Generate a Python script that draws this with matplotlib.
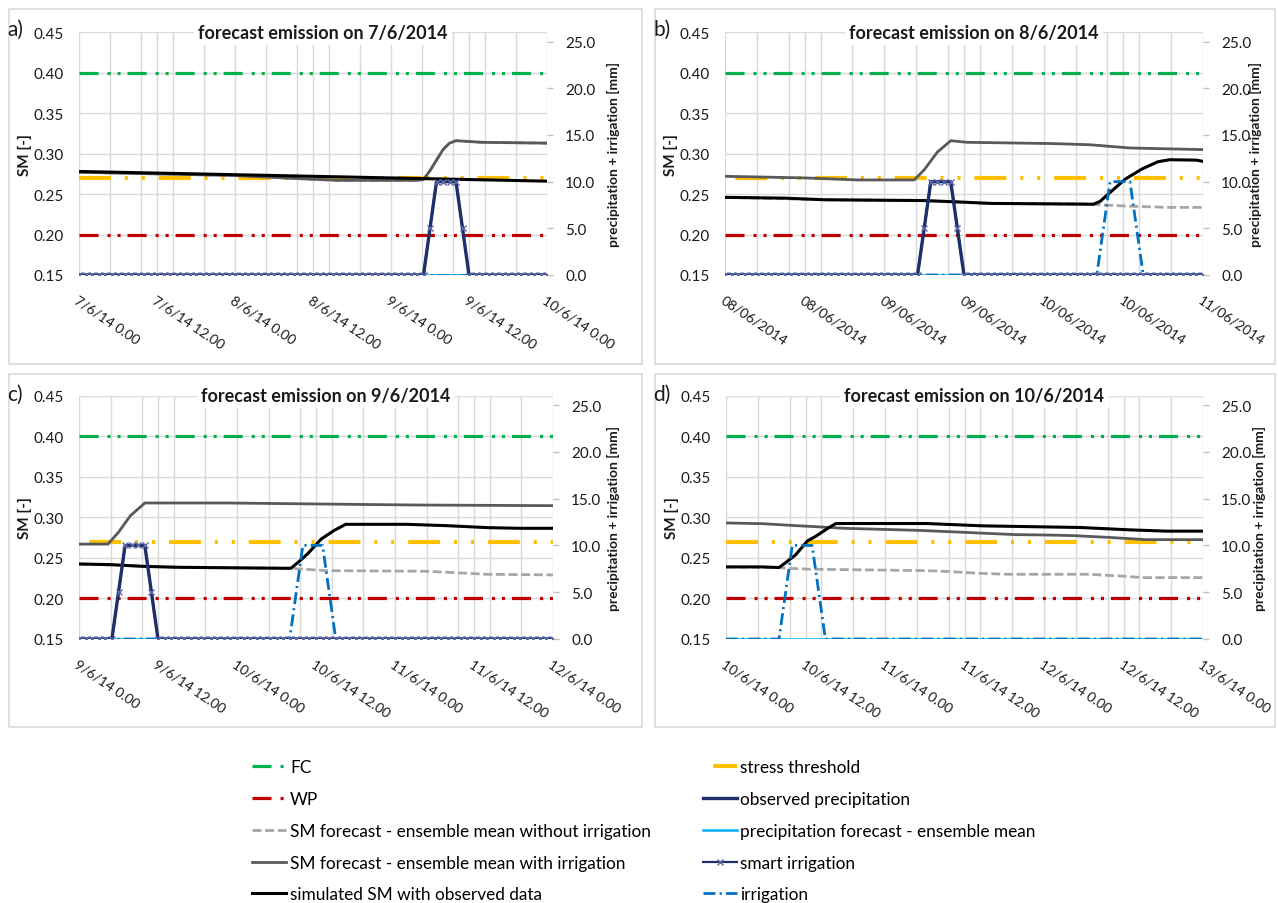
import numpy as np
import matplotlib
matplotlib.use("Agg")
import matplotlib.pyplot as plt
from matplotlib.patches import Rectangle

plt.rcParams['font.family'] = ['Lato', 'DejaVu Sans']
plt.rcParams['lines.scale_dashes'] = False

# time axis: hourly steps over the 3 days of each forecast
hours = np.arange(0, 73)

# thresholds (left axis)
fc_value = 0.40
wp_value = 0.20
stress_value = 0.27

# panel a) forecast emission on 7/6/2014
ticks_a = ['7/6/14 0.00', '7/6/14 12.00', '8/6/14 0.00', '8/6/14 12.00',
           '9/6/14 0.00', '9/6/14 12.00', '10/6/14 0.00']
sim_a_h = [0, 12, 24, 36, 48, 60, 72]
sim_a = [0.278, 0.276, 0.274, 0.272, 0.270, 0.268, 0.266]
withirr_a_h = [0, 12, 24, 34, 40, 52, 53, 54, 55, 56, 57, 58, 62, 72]
withirr_a = [0.277, 0.275, 0.273, 0.269, 0.267, 0.267, 0.268, 0.279, 0.292, 0.305, 0.313, 0.316, 0.314, 0.313]
noirr_a_h = withirr_a_h
noirr_a = withirr_a
obs_a = [0] * 54 + [5, 10, 10, 10, 10, 5] + [0] * 13
smart_a = obs_a
irr_a = [0] * 73
fcst_a = [0] * 73

# panel b) forecast emission on 8/6/2014
ticks_b = ['08/06/2014', '08/06/2014', '09/06/2014', '09/06/2014',
           '10/06/2014', '10/06/2014', '11/06/2014']
sim_b_h = [0, 9, 15, 30, 36, 40, 55.5, 56.5, 58, 60.3, 62.8, 65.2, 67, 71, 72]
sim_b = [0.246, 0.245, 0.243, 0.242, 0.240, 0.2385, 0.2375, 0.241, 0.252, 0.2686, 0.281, 0.290, 0.2925, 0.292, 0.2905]
withirr_b_h = [0, 12, 20, 28.5, 30, 32, 34, 36.5, 49, 55, 61, 72]
withirr_b = [0.272, 0.270, 0.2675, 0.2675, 0.280, 0.302, 0.316, 0.314, 0.3125, 0.311, 0.307, 0.305]
noirr_b_h = [0, 15, 30, 40, 55.5, 57.2, 61, 67, 72]
noirr_b = [0.246, 0.243, 0.242, 0.2385, 0.2375, 0.2365, 0.235, 0.2336, 0.2336]
obs_b = [0] * 30 + [5, 10, 10, 10, 10, 5] + [0] * 37
smart_b = obs_b
irr_b = [0] * 57 + [5, 10, 10, 10, 10, 5] + [0] * 10
fcst_b = [0] * 73

# panel c) forecast emission on 9/6/2014
ticks_c = ['9/6/14 0.00', '9/6/14 12.00', '10/6/14 0.00', '10/6/14 12.00',
           '11/6/14 0.00', '11/6/14 12.00', '12/6/14 0.00']
sim_c_h = [0, 4.8, 9.7, 15.2, 31.3, 32.2, 33.4, 34.7, 36.8, 38.7, 40.5, 49.8, 56, 62.1, 67, 72]
sim_c = [0.2425, 0.2417, 0.2396, 0.2384, 0.2372, 0.2372, 0.2454, 0.2548, 0.2733, 0.2836, 0.2914, 0.2914, 0.2897, 0.2873, 0.2865, 0.2865]
withirr_c_h = [0, 4.4, 6, 7.8, 10, 22.6, 41.8, 51.6, 72]
withirr_c = [0.267, 0.267, 0.2816, 0.302, 0.3177, 0.3177, 0.316, 0.3152, 0.3144]
noirr_c_h = [0, 15.2, 31.3, 32.2, 33.4, 37.5, 52.9, 56, 62, 72]
noirr_c = [0.2425, 0.2384, 0.2372, 0.2372, 0.2364, 0.2343, 0.2335, 0.2322, 0.2298, 0.229]
obs_c = [0] * 6 + [5, 10, 10, 10, 10, 5] + [0] * 61
smart_c = obs_c
irr_c = [0] * 33 + [5, 10, 10, 10, 10, 5] + [0] * 34
fcst_c = [0] * 73

# panel d) forecast emission on 10/6/2014
ticks_d = ['10/6/14 0.00', '10/6/14 12.00', '11/6/14 0.00', '11/6/14 12.00',
           '12/6/14 0.00', '12/6/14 12.00', '13/6/14 0.00']
sim_d_h = [0, 5.5, 8, 8.9, 10.5, 12.3, 13.5, 15.4, 16.6, 30.2, 38.8, 53.5, 60.9, 66.5, 72]
sim_d = [0.2389, 0.2389, 0.2381, 0.2435, 0.2537, 0.271, 0.2764, 0.2867, 0.2924, 0.2924, 0.2895, 0.2875, 0.2846, 0.283, 0.283]
withirr_d_h = [0, 5.5, 10.5, 13.5, 17.8, 28.9, 33.8, 38.2, 43.7, 48.6, 52.3, 57.8, 63.4, 72]
withirr_d = [0.2931, 0.2922, 0.2898, 0.2885, 0.2865, 0.284, 0.2823, 0.2807, 0.2787, 0.2782, 0.2775, 0.2753, 0.2725, 0.2725]
noirr_d_h = [0, 8, 9.2, 12.9, 30.2, 33.8, 38.2, 42.5, 54.8, 56.6, 61, 62.8, 72]
noirr_d = [0.2389, 0.2381, 0.2372, 0.236, 0.2343, 0.2331, 0.231, 0.2298, 0.2298, 0.229, 0.2269, 0.2257, 0.2257]
obs_d = None
smart_d = None
irr_d = [0] * 9 + [5, 10, 10, 10, 10, 5] + [0] * 58
fcst_d = [0] * 73

# colours
C_FC = '#00B050'
C_WP = '#C00000'
C_STRESS = '#FFC000'
C_NOIRR = '#A6A6A6'
C_WITHIRR = '#595959'
C_SIM = '#000000'
C_OBS = '#1F2F6B'
C_FCST = '#00B0F0'
C_SMART = '#1F2F6B'
C_IRR = '#0070C0'
C_GRID = '#D9D9D9'
C_TEXT = '#1a1a1a'

W, H = 1278, 904
fig = plt.figure(figsize=(W / 100, H / 100), dpi=100)


def px_axes(left, right, top, bottom):
    return fig.add_axes([left / W, 1 - bottom / H, (right - left) / W, (bottom - top) / H])


def draw_panel(box, plot, right_lab, stress_off, letter, title, ticks, sim, withirr, noirr, obs, smart, irr, fcst):
    # light grey frame round each panel
    bx0, by0, bx1, by1 = box
    fig.add_artist(Rectangle((bx0 / W, 1 - by1 / H), (bx1 - bx0) / W, (by1 - by0) / H,
                             transform=fig.transFigure, fill=False, ec=C_GRID, lw=1.2))
    fig.text((bx0 - 2) / W, 1 - (by0 + 20) / H, letter, fontsize=15, color=C_TEXT,
             ha='left', va='center')

    left, right, top, bottom = plot
    ax = px_axes(left, right, top, bottom)
    ax2 = ax.twinx()

    lines = {}
    # order of drawing: stress threshold sits under the SM curves
    lines['stress'] = ax.plot(hours, [stress_value] * len(hours), color=C_STRESS, lw=3.0,
                              ls=(stress_off, (23, 10, 2.2, 10, 2.2, 10)))[0]
    lines['FC'] = ax.plot(hours, [fc_value] * len(hours), color=C_FC, lw=2.3,
                          ls=(0, (13.7, 6.5, 2.2, 5, 2.2, 5)))[0]
    lines['WP'] = ax.plot(hours, [wp_value] * len(hours), color=C_WP, lw=2.3,
                          ls=(0, (13.7, 6.5, 2.2, 5, 2.2, 5)))[0]
    lines['noirr'] = ax.plot(noirr[0], noirr[1], color=C_NOIRR, lw=2.0, ls=(0, (6.5, 2.6)))[0]
    lines['withirr'] = ax.plot(withirr[0], withirr[1], color=C_WITHIRR, lw=2.0)[0]
    lines['sim'] = ax.plot(sim[0], sim[1], color=C_SIM, lw=2.2)[0]

    if obs is not None:
        lines['obs'] = ax2.plot(hours, obs, color=C_OBS, lw=2.4)[0]
    lines['fcst'] = ax2.plot(hours, fcst, color=C_FCST, lw=1.8)[0]
    lines['irr'] = ax2.plot(hours, irr, color=C_IRR, lw=2.0, ls=(0, (8.6, 3, 1.5, 3)))[0]
    if smart is not None:
        lines['smart'] = ax2.plot(hours, smart, color=C_SMART, lw=1.6, marker='x', ms=4.5,
                                  mec='#5A68A8', mew=1.0)[0]

    # left axis: soil moisture
    ax.set_xlim(0, 72)
    ax.set_ylim(0.15, 0.45)
    ax.set_yticks(np.arange(0.15, 0.451, 0.05))
    ax.set_yticklabels([f'{v:.2f}' for v in np.arange(0.15, 0.451, 0.05)])
    ax.set_xticks(np.arange(0, 73, 12))
    ax.set_xticks(np.arange(0, 72.1, 4.8), minor=True)
    ax.set_xticklabels(ticks, rotation=-34, ha='left', rotation_mode='anchor', fontsize=10)
    ax.tick_params(axis='x', which='both', length=0, pad=13, colors=C_TEXT)
    ax.tick_params(axis='y', length=0, pad=11, labelsize=11, colors=C_TEXT)
    ax.grid(True, which='both', axis='x', color=C_GRID, lw=1)
    ax.grid(True, which='major', axis='y', color=C_GRID, lw=1)
    ax.set_axisbelow(True)
    for s in ax.spines.values():
        s.set_visible(False)
    ax.set_ylabel('SM [-]', fontweight='bold', fontsize=11, color=C_TEXT)
    ax.yaxis.set_label_coords(-47 / (right - left), 0.5)

    # right axis: precipitation + irrigation
    ax2.set_ylim(0, 26)
    ax2.set_yticks(np.arange(0, 26, 5))
    ax2.set_yticklabels([f'{v:.1f}' for v in np.arange(0, 26, 5)])
    ax2.tick_params(axis='y', length=4, width=1, color='#BFBFBF', pad=9, labelsize=11, labelcolor=C_TEXT)
    for s in ax2.spines.values():
        s.set_visible(False)
    ax2.set_ylabel('precipitation + irrigation [mm]', fontweight='bold', fontsize=10,
                   color=C_TEXT, rotation=90)
    ax2.yaxis.set_label_coords(1 + right_lab / (right - left), 0.5)

    ax2.text(0.5 + 10 / (right - left), 1.0, title, transform=ax2.transAxes, ha='center', va='center',
             fontsize=13, fontweight='bold', color=C_TEXT,
             bbox=dict(fc='white', ec='none', pad=3))
    return lines


draw_panel((9, 10, 642, 365), (79, 547, 33.3, 276), 60, 0, 'a)', 'forecast emission on 7/6/2014', ticks_a,
           (sim_a_h, sim_a), (withirr_a_h, withirr_a), (noirr_a_h, noirr_a), obs_a, smart_a, irr_a, fcst_a)
lines_b = draw_panel((655, 10, 1275, 365), (725, 1203, 33.3, 276), 46, 50, 'b)', 'forecast emission on 8/6/2014', ticks_b,
                     (sim_b_h, sim_b), (withirr_b_h, withirr_b), (noirr_b_h, noirr_b), obs_b, smart_b, irr_b, fcst_b)
draw_panel((9, 375, 642, 728), (79, 553, 396.7, 640), 54, 50, 'c)', 'forecast emission on 9/6/2014', ticks_c,
           (sim_c_h, sim_c), (withirr_c_h, withirr_c), (noirr_c_h, noirr_c), obs_c, smart_c, irr_c, fcst_c)
draw_panel((655, 375, 1275, 728), (726, 1203, 396.7, 640), 50, 0, 'd)', 'forecast emission on 10/6/2014', ticks_d,
           (sim_d_h, sim_d), (withirr_d_h, withirr_d), (noirr_d_h, noirr_d), obs_d, smart_d, irr_d, fcst_d)

# legend at the bottom, two columns
order = ['FC', 'WP', 'noirr', 'withirr', 'sim', 'stress', 'obs', 'fcst', 'smart', 'irr']
labels = ['FC', 'WP', 'SM forecast - ensemble mean without irrigation',
          'SM forecast - ensemble mean with irrigation', 'simulated SM with observed data',
          'stress threshold', 'observed precipitation', 'precipitation forecast - ensemble mean',
          'smart irrigation', 'irrigation']
fig.legend([lines_b[k] for k in order], labels, ncol=2, loc='upper left',
           bbox_to_anchor=(252 / W, 1 - 760 / H), frameon=False, fontsize=12.4,
           handlelength=2.0, handletextpad=0.2, labelspacing=0.92, columnspacing=3.0,
           borderpad=0, borderaxespad=0)

fig.savefig('out.png', dpi=100)
